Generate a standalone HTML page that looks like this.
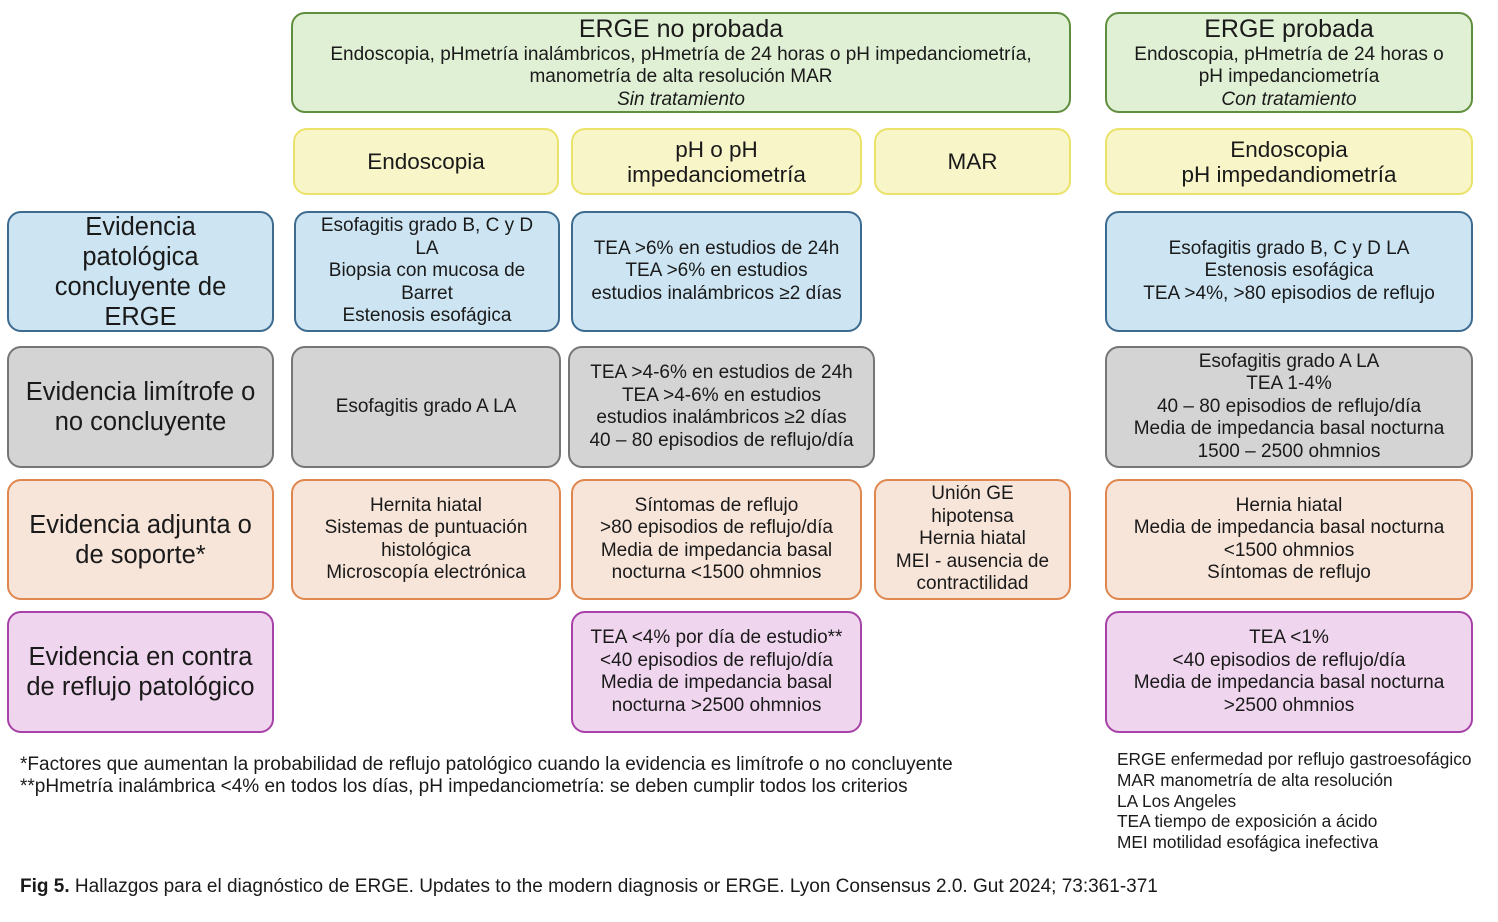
<!DOCTYPE html>
<html><head><meta charset="utf-8"><style>
body{margin:0;width:1498px;height:922px;background:#fff;position:relative;font-family:"Liberation Sans",Arial,sans-serif;color:#1a1a1a;overflow:hidden}
.b{position:absolute;box-sizing:border-box;border-radius:14px;border:2.5px solid;display:flex;align-items:center;justify-content:center;text-align:center;font-size:19px;line-height:22.5px;white-space:nowrap}
.g{background:#e0f0d5;border-color:#5f8f3e}
.y{background:#f8f5c8;border-color:#ebe26a;font-size:22.5px;line-height:25px}
.bl{background:#cde5f3;border-color:#3d6b90}
.gr{background:#d4d4d4;border-color:#767676}
.o{background:#f8e5da;border-color:#df874f}
.p{background:#f0d5ee;border-color:#a642a8}
.L{font-size:25.5px;line-height:30px}
.t{position:absolute;font-size:19px;line-height:22px;white-space:nowrap}
</style></head><body>
<div class="b g" style="left:291px;top:12px;width:780px;height:101px"><div><span style="font-size:25px;line-height:30px">ERGE no probada</span><br>Endoscopia, pHmetría inalámbricos, pHmetría de 24 horas o pH impedanciometría,<br>manometría de alta resolución MAR<br><i>Sin tratamiento</i></div></div>
<div class="b g" style="left:1105px;top:12px;width:368px;height:101px"><div><span style="font-size:25px;line-height:30px">ERGE probada</span><br>Endoscopia, pHmetría de 24 horas o<br>pH impedanciometría<br><i>Con tratamiento</i></div></div>

<div class="b y" style="left:293px;top:128px;width:266px;height:67px">Endoscopia</div>
<div class="b y" style="left:571px;top:128px;width:291px;height:67px">pH o pH<br>impedanciometría</div>
<div class="b y" style="left:874px;top:128px;width:197px;height:67px">MAR</div>
<div class="b y" style="left:1105px;top:128px;width:368px;height:67px">Endoscopia<br>pH impedandiometría</div>

<div class="b bl L" style="left:7px;top:211px;width:267px;height:121px">Evidencia<br>patológica<br>concluyente de<br>ERGE</div>
<div class="b bl" style="left:294px;top:211px;width:266px;height:121px">Esofagitis grado B, C y D<br>LA<br>Biopsia con mucosa de<br>Barret<br>Estenosis esofágica</div>
<div class="b bl" style="left:571px;top:211px;width:291px;height:121px">TEA &gt;6% en estudios de 24h<br>TEA &gt;6% en estudios<br>estudios inalámbricos ≥2 días</div>
<div class="b bl" style="left:1105px;top:211px;width:368px;height:121px">Esofagitis grado B, C y D LA<br>Estenosis esofágica<br>TEA &gt;4%, &gt;80 episodios de reflujo</div>

<div class="b gr L" style="left:7px;top:346px;width:267px;height:122px">Evidencia limítrofe o<br>no concluyente</div>
<div class="b gr" style="left:291px;top:346px;width:270px;height:122px">Esofagitis grado A LA</div>
<div class="b gr" style="left:568px;top:346px;width:307px;height:122px">TEA &gt;4-6% en estudios de 24h<br>TEA &gt;4-6% en estudios<br>estudios inalámbricos ≥2 días<br>40 – 80 episodios de reflujo/día</div>
<div class="b gr" style="left:1105px;top:346px;width:368px;height:122px">Esofagitis grado A LA<br>TEA 1-4%<br>40 – 80 episodios de reflujo/día<br>Media de impedancia basal nocturna<br>1500 – 2500 ohmnios</div>

<div class="b o L" style="left:7px;top:479px;width:267px;height:121px">Evidencia adjunta o<br>de soporte*</div>
<div class="b o" style="left:291px;top:479px;width:270px;height:121px">Hernita hiatal<br>Sistemas de puntuación<br>histológica<br>Microscopía electrónica</div>
<div class="b o" style="left:571px;top:479px;width:291px;height:121px">Síntomas de reflujo<br>&gt;80 episodios de reflujo/día<br>Media de impedancia basal<br>nocturna &lt;1500 ohmnios</div>
<div class="b o" style="left:874px;top:479px;width:197px;height:121px">Unión GE<br>hipotensa<br>Hernia hiatal<br>MEI - ausencia de<br>contractilidad</div>
<div class="b o" style="left:1105px;top:479px;width:368px;height:121px">Hernia hiatal<br>Media de impedancia basal nocturna<br>&lt;1500 ohmnios<br>Síntomas de reflujo</div>

<div class="b p L" style="left:7px;top:611px;width:267px;height:122px">Evidencia en contra<br>de reflujo patológico</div>
<div class="b p" style="left:571px;top:611px;width:291px;height:122px">TEA &lt;4% por día de estudio**<br>&lt;40 episodios de reflujo/día<br>Media de impedancia basal<br>nocturna &gt;2500 ohmnios</div>
<div class="b p" style="left:1105px;top:611px;width:368px;height:122px">TEA &lt;1%<br>&lt;40 episodios de reflujo/día<br>Media de impedancia basal nocturna<br>&gt;2500 ohmnios</div>

<div class="t" style="left:20px;top:754px">*Factores que aumentan la probabilidad de reflujo patológico cuando la evidencia es limítrofe o no concluyente<br>**pHmetría inalámbrica &lt;4% en todos los días, pH impedanciometría: se deben cumplir todos los criterios</div>
<div class="t" style="left:1117px;top:749px;font-size:17.3px;line-height:20.8px">ERGE enfermedad por reflujo gastroesofágico<br>MAR manometría de alta resolución<br>LA Los Angeles<br>TEA tiempo de exposición a ácido<br>MEI motilidad esofágica inefectiva</div>
<div class="t" style="left:20px;top:876px"><b>Fig 5.</b> Hallazgos para el diagnóstico de ERGE. Updates to the modern diagnosis or ERGE. Lyon Consensus 2.0. Gut 2024; 73:361-371</div>
</body></html>
